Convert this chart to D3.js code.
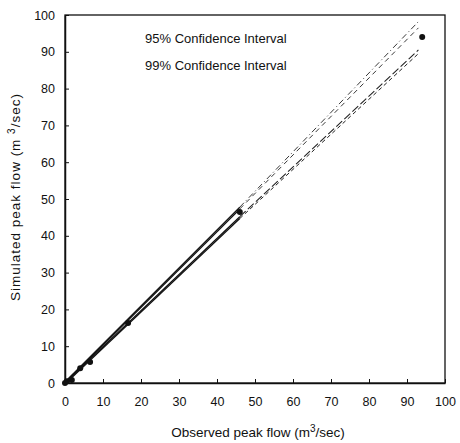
<!DOCTYPE html>
<html>
<head>
<meta charset="utf-8">
<script src="https://cdn.jsdelivr.net/npm/d3@7"></script>
<style>
  body { margin: 0; background: #fff; }
  text { font-family: "Liberation Sans", Arial, sans-serif; fill: #111; }
</style>
</head>
<body>
<div id="chart"></div>
<script>
// observed vs simulated peak flows
var observed = [0, 0.5, 1.8, 4, 6.6, 16.6, 46, 94];
var simulated = [0, 0.5, 0.8, 4, 5.7, 16.3, 46.5, 94];

// confidence interval lines (x breakpoints)
var ciX = [0, 46, 93];
var upper99 = [0.3, 47.8, 98.2];
var upper95 = [0, 47.3, 96.5];
var lower95 = [0, 45.2, 90.5];
var lower99 = [-0.3, 44.7, 89.5];

var xTicks = [0, 10, 20, 30, 40, 50, 60, 70, 80, 90, 100];
var yTicks = [0, 10, 20, 30, 40, 50, 60, 70, 80, 90, 100];
var legendLabels = ["95% Confidence Interval", "99% Confidence Interval"];

var svgWidth = 460, svgHeight = 443;
var margin = { top: 15, right: 15, bottom: 60, left: 65 };
var chart_width = svgWidth - margin.left - margin.right;
var chart_height = svgHeight - margin.top - margin.bottom;

var svg = d3.select("#chart").append("svg")
    .attr("width", svgWidth)
    .attr("height", svgHeight);

var chartGroup = svg.append("g")
    .attr("transform", `translate(${margin.left}, ${margin.top})`);

var xScale = d3.scaleLinear().domain([0, 100]).range([0, chart_width]);
var yScale = d3.scaleLinear().domain([0, 100]).range([chart_height, 0]);

// axes, ticks pointing inward
var bottomAxis = d3.axisBottom(xScale).tickValues(xTicks).tickSizeInner(-4).tickSizeOuter(0).tickPadding(14);
var leftAxis = d3.axisLeft(yScale).tickValues(yTicks).tickSizeInner(-4).tickSizeOuter(0).tickPadding(10);

var xg = chartGroup.append("g")
    .attr("transform", `translate(0, ${chart_height})`)
    .call(bottomAxis);
var yg = chartGroup.append("g").call(leftAxis);

[xg, yg].forEach(function(g) {
    g.select(".domain").attr("stroke", "#111").attr("stroke-width", 1.5);
    g.selectAll(".tick line").attr("stroke", "#111");
    g.selectAll(".tick text").style("font-size", "12.5px").attr("fill", "#111");
});

// box
chartGroup.append("rect")
    .attr("width", chart_width)
    .attr("height", chart_height)
    .attr("fill", "none")
    .attr("stroke", "#111")
    .attr("stroke-width", 1.3);

// CI lines: solid to 46, broken beyond
var line = d3.line().x(d => xScale(d[0])).y(d => yScale(d[1]));
var bands = [
    { vals: upper99, dash: "6,3,1,3", w: 0.9 },
    { vals: upper95, dash: "5,4", w: 0.9 },
    { vals: lower95, dash: "8,3", w: 1.1 },
    { vals: lower99, dash: "4,3", w: 1 }
];
bands.forEach(function(b) {
    var pts = ciX.map((x, i) => [x, b.vals[i]]);
    chartGroup.append("path")
        .attr("d", line(pts.slice(0, 2)))
        .attr("fill", "none")
        .attr("stroke", "#111")
        .attr("stroke-width", 1.3);
    chartGroup.append("path")
        .attr("d", line(pts.slice(1)))
        .attr("fill", "none")
        .attr("stroke", "#222")
        .attr("stroke-width", b.w)
        .attr("stroke-dasharray", b.dash);
});

// points
chartGroup.selectAll("circle")
    .data(observed)
    .enter()
    .append("circle")
    .attr("cx", d => xScale(d))
    .attr("cy", (d, i) => yScale(simulated[i]))
    .attr("r", 3)
    .attr("fill", "#111");

// legend text
chartGroup.selectAll(".legend")
    .data(legendLabels)
    .enter()
    .append("text")
    .attr("class", "legend")
    .attr("x", 80)
    .attr("y", (d, i) => 28 + i * 27)
    .style("font-size", "13px")
    .text(d => d);

// axis labels
var yl = chartGroup.append("text")
    .attr("transform", "rotate(-90)")
    .attr("x", -(chart_height / 2) + 2)
    .attr("y", -45)
    .attr("text-anchor", "middle")
    .style("font-size", "13.5px")
    .style("letter-spacing", "1px");
yl.append("tspan").text("Simulated peak flow (m ");
yl.append("tspan").attr("dy", -5).style("font-size", "10px").text("3");
yl.append("tspan").attr("dy", 5).text("/sec)");

var xl = chartGroup.append("text")
    .attr("x", chart_width / 2 + 3)
    .attr("y", chart_height + 54)
    .attr("text-anchor", "middle")
    .style("font-size", "13.5px");
xl.append("tspan").text("Observed peak flow (m");
xl.append("tspan").attr("dy", -5).style("font-size", "10px").text("3");
xl.append("tspan").attr("dy", 5).text("/sec)");
</script>
</body>
</html>
